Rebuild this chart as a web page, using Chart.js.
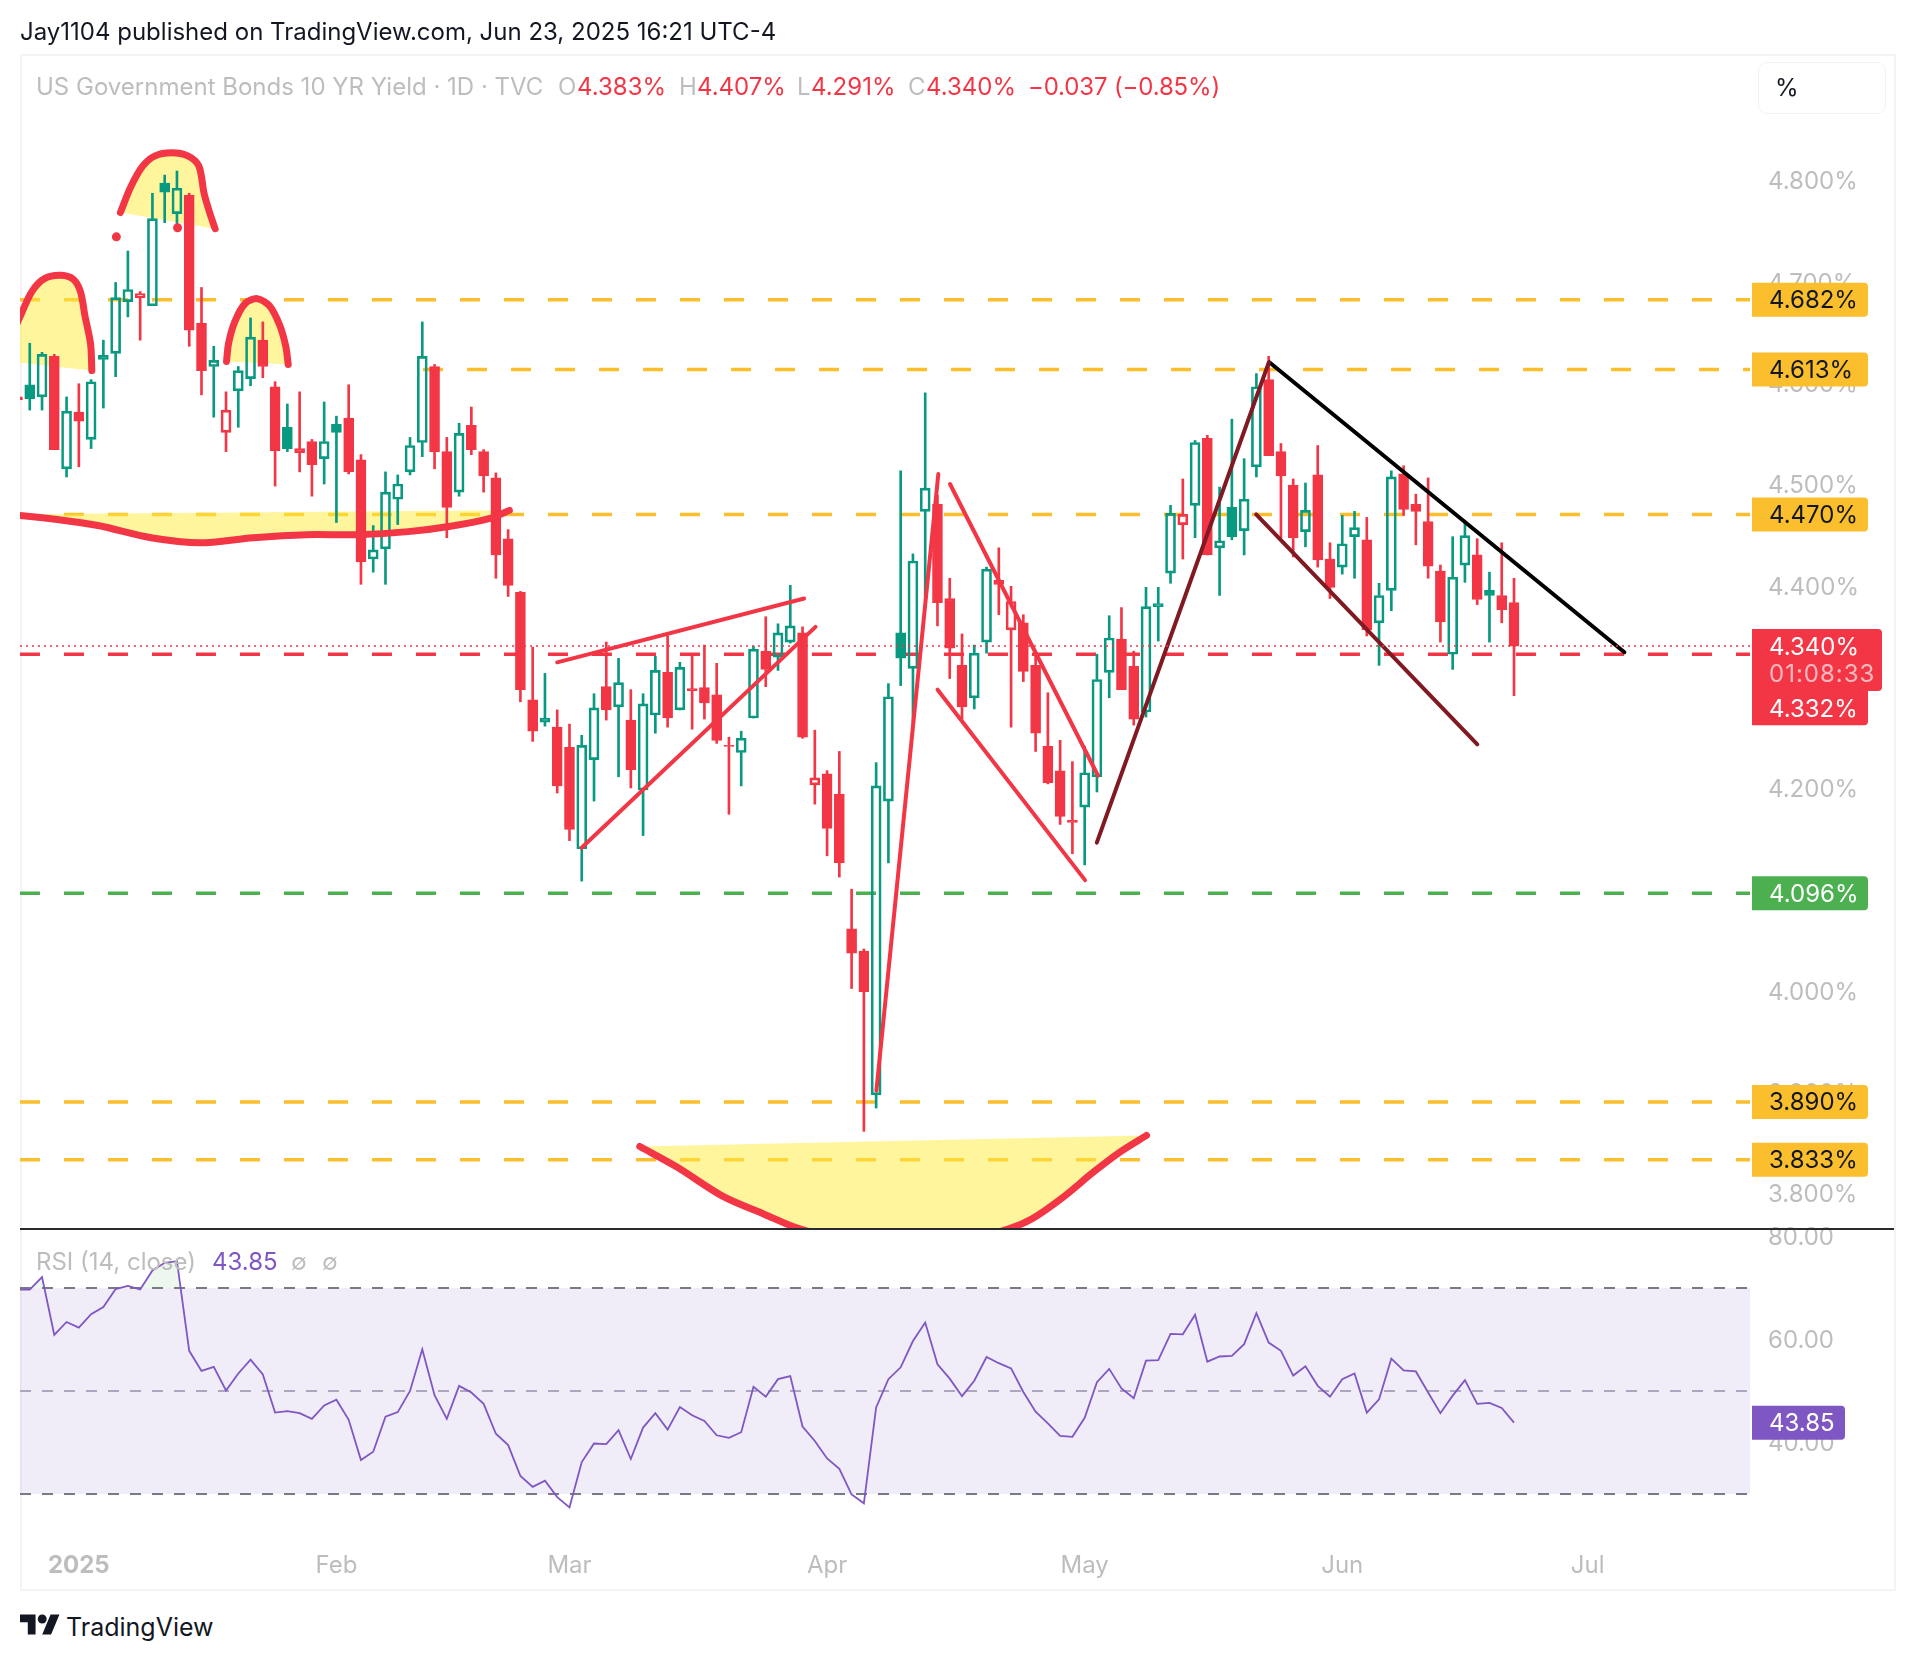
<!DOCTYPE html>
<html><head><meta charset="utf-8">
<style>
html,body{margin:0;padding:0;background:#fff;width:1914px;height:1660px;overflow:hidden;font-family:Inter,"Liberation Sans",sans-serif}
.t{position:absolute;white-space:nowrap;line-height:1;transform:translateY(-50%)}
canvas{position:absolute;left:0}
#frame{position:absolute;left:20px;top:54px;width:1872px;height:1533px;border:2px solid #f4f4f4}
#sep{position:absolute;left:20px;top:1228px;width:1874px;height:2px;background:#2a2a2e}
#pct{position:absolute;left:1758px;top:62px;width:126px;height:50px;border:1.5px solid #f2f2f2;border-radius:9px}
</style>
<script src="https://cdn.jsdelivr.net/npm/chart.js@4/dist/chart.umd.js"></script>
</head><body>
<div id="frame"></div>
<canvas id="price" width="1914" height="1235" style="top:24px"></canvas>
<canvas id="rsi" width="1914" height="374" style="top:1215px"></canvas>
<div id="sep"></div>
<div id="pct"></div>
<div class="t" style="left:20px;top:32px;font-size:24px;color:#131722">Jay1104 published on TradingView.com, Jun 23, 2025 16:21 UTC-4</div>
<div class="t" style="left:36px;top:87px;font-size:24px;color:#bdbdbd">US Government Bonds 10 YR Yield · 1D · TVC</div>
<div class="t" style="left:558px;top:87px;font-size:24px;color:#bdbdbd">O</div>
<div class="t" style="left:577px;top:87px;font-size:24px;color:#f23645">4.383%</div>
<div class="t" style="left:679px;top:87px;font-size:24px;color:#bdbdbd">H</div>
<div class="t" style="left:697px;top:87px;font-size:24px;color:#f23645">4.407%</div>
<div class="t" style="left:797px;top:87px;font-size:24px;color:#bdbdbd">L</div>
<div class="t" style="left:811px;top:87px;font-size:24px;color:#f23645">4.291%</div>
<div class="t" style="left:908px;top:87px;font-size:24px;color:#bdbdbd">C</div>
<div class="t" style="left:926px;top:87px;font-size:24px;color:#f23645">4.340%</div>
<div class="t" style="left:1028px;top:87px;font-size:24px;color:#f23645;letter-spacing:-0.15px">−0.037 (−0.85%)</div>
<div class="t" style="left:1775px;top:88px;font-size:24px;color:#131722">%</div>
<div class="t" style="left:36px;top:1262px;font-size:24px;color:#bdbdbd">RSI (14, close)</div>
<div class="t" style="left:212px;top:1262px;font-size:24px;color:#7e57c2">43.85</div>
<div class="t" style="left:291px;top:1262px;font-size:23px;color:#bdbdbd">∅</div>
<div class="t" style="left:322px;top:1262px;font-size:23px;color:#bdbdbd">∅</div>
<svg style="position:absolute;left:20px;top:1610px" width="40" height="28" viewBox="0 0 36 25"><path fill="#131722" d="M14 22H7V11H0V4h14v18zM28 22h-8l7.5-18h8L28 22z"/><circle fill="#131722" cx="20" cy="8" r="4"/></svg>
<div class="t" style="left:66px;top:1627px;font-size:25px;color:#131722">TradingView</div>
<script>
// ---- candles (daily, index 0 = late Dec 2024)
const opens=[4.586,4.598,4.586,4.626,4.515,4.571,4.544,4.627,4.629,4.680,4.684,4.676,4.797,4.767,4.785,4.659,4.616,4.551,4.592,4.604,
4.642,4.596,4.556,4.535,4.542,4.525,4.559,4.565,4.524,4.426,4.436,4.485,4.512,4.541,4.616,4.532,4.492,4.558,4.532,4.506,
4.446,4.393,4.287,4.269,4.260,4.240,4.140,4.228,4.300,4.280,4.267,4.198,4.272,4.314,4.277,4.298,4.299,4.292,4.242,4.235,
4.269,4.335,4.329,4.344,4.353,4.203,4.214,4.194,4.061,4.039,3.897,4.187,4.353,4.318,4.473,4.480,4.387,4.321,4.289,4.344,
4.405,4.356,4.363,4.321,4.241,4.217,4.168,4.181,4.211,4.314,4.347,4.320,4.275,4.382,4.412,4.460,4.479,4.545,4.437,4.477,
4.454,4.517,4.603,4.532,4.499,4.453,4.509,4.426,4.418,4.448,4.445,4.363,4.395,4.510,4.480,4.463,4.414,4.332,4.420,4.430,
4.395,4.390,4.383];
const highs=[4.600,4.639,4.630,4.628,4.586,4.599,4.603,4.642,4.699,4.730,4.690,4.787,4.805,4.809,4.787,4.694,4.636,4.591,4.616,4.664,
4.660,4.601,4.579,4.591,4.544,4.581,4.567,4.598,4.529,4.459,4.512,4.509,4.546,4.660,4.618,4.546,4.560,4.576,4.534,4.511,
4.455,4.394,4.339,4.313,4.277,4.263,4.252,4.293,4.344,4.328,4.297,4.293,4.330,4.350,4.324,4.331,4.341,4.323,4.250,4.256,
4.340,4.369,4.362,4.400,4.359,4.257,4.217,4.236,4.100,4.041,4.225,4.303,4.513,4.431,4.590,4.489,4.407,4.352,4.341,4.418,
4.437,4.399,4.371,4.334,4.294,4.247,4.226,4.241,4.332,4.370,4.378,4.335,4.398,4.398,4.479,4.505,4.543,4.548,4.497,4.564,
4.525,4.609,4.626,4.540,4.505,4.501,4.538,4.442,4.469,4.473,4.467,4.402,4.513,4.518,4.490,4.506,4.420,4.448,4.462,4.446,
4.413,4.442,4.407];
const lows=[4.570,4.573,4.573,4.534,4.507,4.517,4.535,4.575,4.606,4.665,4.642,4.676,4.758,4.750,4.636,4.588,4.566,4.532,4.556,4.597,
4.605,4.498,4.532,4.512,4.488,4.500,4.462,4.510,4.401,4.413,4.401,4.460,4.509,4.527,4.515,4.447,4.488,4.529,4.492,4.407,
4.389,4.285,4.246,4.261,4.195,4.148,4.108,4.187,4.267,4.211,4.200,4.153,4.254,4.260,4.277,4.258,4.268,4.244,4.174,4.202,
4.269,4.300,4.316,4.343,4.249,4.184,4.133,4.112,4.002,3.861,3.884,4.126,4.301,4.261,4.385,4.360,4.308,4.268,4.278,4.333,
4.371,4.260,4.305,4.236,4.204,4.164,4.135,4.124,4.196,4.289,4.297,4.262,4.270,4.345,4.402,4.426,4.447,4.430,4.390,4.445,
4.430,4.507,4.528,4.447,4.428,4.438,4.418,4.387,4.411,4.407,4.350,4.321,4.375,4.469,4.440,4.407,4.344,4.317,4.403,4.381,
4.344,4.363,4.291];
const closes=[4.583,4.584,4.628,4.534,4.572,4.562,4.601,4.623,4.684,4.692,4.688,4.762,4.788,4.792,4.652,4.612,4.622,4.573,4.612,4.645,
4.616,4.533,4.535,4.531,4.519,4.542,4.551,4.512,4.423,4.435,4.492,4.500,4.538,4.626,4.532,4.477,4.550,4.534,4.508,4.430,
4.400,4.297,4.256,4.265,4.202,4.159,4.242,4.279,4.277,4.304,4.218,4.283,4.316,4.269,4.319,4.296,4.284,4.247,4.241,4.249,
4.337,4.317,4.353,4.360,4.250,4.210,4.160,4.126,4.037,3.999,4.202,4.290,4.328,4.424,4.496,4.383,4.338,4.280,4.333,4.416,
4.401,4.384,4.315,4.254,4.205,4.172,4.166,4.215,4.307,4.348,4.297,4.268,4.379,4.379,4.471,4.470,4.541,4.430,4.444,4.448,
4.485,4.596,4.528,4.508,4.447,4.474,4.425,4.398,4.441,4.457,4.356,4.390,4.507,4.475,4.473,4.419,4.364,4.408,4.449,4.386,
4.390,4.376,4.340];
// ---- RSI (14, close)
const rsiValues=[69.7,69.7,72.1,60.9,63.4,62.3,64.9,66.3,69.8,70.4,69.7,73.4,74.9,75.2,57.8,53.9,54.7,50.1,53.4,56.1,
53.2,45.8,46.1,45.7,44.6,47.2,48.3,44.4,36.6,38.2,45.0,45.9,50.0,58.1,49.2,44.6,51.0,49.7,47.5,41.7,
39.5,33.5,31.4,32.6,29.4,27.4,36.2,39.8,39.7,42.4,36.8,42.9,45.7,42.5,46.9,45.3,44.2,41.4,40.9,42.0,
50.8,48.9,52.3,52.9,43.1,40.3,36.9,34.9,29.9,28.2,46.8,52.3,54.6,59.7,63.3,55.2,52.4,49.0,52.0,56.6,
55.4,54.4,49.8,46.0,43.7,41.3,41.1,44.8,51.7,54.3,50.5,48.6,55.9,56.0,61.1,61.0,64.8,55.7,56.7,56.8,
59.1,65.1,59.4,57.8,53.0,54.8,51.0,48.9,52.3,53.4,45.8,48.4,56.3,54.0,53.8,49.7,45.7,49.1,52.1,47.5,
47.7,46.7,43.85];
// ---- axes
const priceTicks=[4.8,4.7,4.6,4.5,4.4,4.3,4.2,4.1,4.0,3.9,3.8];
const rsiTicks=[80,60,40];
const monthBars=[5,26,45,66,87,108,128];
const monthLabels=['2025','Feb','Mar','Apr','May','Jun','Jul'];
// ---- horizontal levels: [price, first bar]
const amberLevels=[[4.682,0.2],[4.613,33.06],[4.470,3.79],[3.890,0.2],[3.833,0.2]];
const redLevel=[4.332,0.2];
const greenLevel=[4.096,0.2];
const lastClose=4.340;
const barRange=[0.204,141.24];
// ---- hand-drawn shapes: [bar, price]
const headLeft=[[-1.43,4.622],[0.24,4.666],[1.17,4.690],[2.23,4.703],[3.57,4.706],[4.56,4.702],[5.13,4.690],[5.50,4.666],[5.96,4.638],[6.06,4.612]];
const headTop=[[8.39,4.768],[9.22,4.793],[10.22,4.814],[11.22,4.824],[12.55,4.827],[13.88,4.824],[14.78,4.814],[15.21,4.787],[15.61,4.770],[16.11,4.752]];
const headRight=[[17.04,4.621],[17.21,4.639],[17.71,4.660],[18.54,4.678],[19.54,4.683],[20.54,4.676],[21.37,4.657],[21.87,4.636],[22.07,4.618]];
const neckline=[[-1.43,4.470],[0.07,4.469],[3.23,4.465],[6.56,4.459],[10.89,4.447],[14.88,4.442],[19.2,4.447],[23.53,4.450],[27.86,4.450],[31.85,4.453],[35.18,4.458],[38.51,4.466],[40.1,4.474]];
const bowl=[[50.73,3.846],[53.73,3.826],[57.48,3.797],[60.91,3.779],[63.71,3.765],[67.46,3.754],[72.44,3.750],[77.44,3.754],[80.87,3.765],[82.75,3.775],[85.24,3.796],[87.74,3.821],[89.93,3.841],[92.04,3.857]];
const dots=[[8.06,4.744],[13.05,4.753]];
const redTrends=[[[44.0,4.324],[64.13,4.387]],[[45.99,4.141],[65.06,4.359]],[[70.02,3.901],[75.07,4.510]],[[76.02,4.500],[88.09,4.212]],[[75.01,4.297],[87.03,4.109]]];
const darkTrends=[[[87.99,4.146],[102.01,4.620]],[[100.98,4.470],[119.01,4.243]]];
const blackTrend=[[102.08,4.620],[131.0,4.334]];

const RED='#f23645',TEAL='#089981',AMBER='#fbbf2d',GREEN='#4caf50',PURPLE='#7e57c2',TICK='#bdbdbd',FONT='Inter, "Liberation Sans", sans-serif';
const pts=a=>a.map(p=>({x:p[0],y:p[1]}));
const bars=opens.map((_,i)=>i);
const isUp=i=>i>0&&closes[i]>=closes[i-1];
const col=i=>isUp(i)?TEAL:RED;
const hollow=i=>closes[i]>opens[i];

function level(price,start,color){return{type:'line',order:50,data:[{x:start,y:price},{x:barRange[1],y:price}],borderColor:color,borderWidth:3.5,borderDash:[20,24],pointRadius:0,fill:false};}
function shapeFill(a){return{type:'line',order:45,data:pts(a),borderWidth:0,borderColor:'rgba(0,0,0,0)',tension:0.3,pointRadius:0,fill:'shape',backgroundColor:'rgba(255,235,59,0.5)'};}
function shapeLine(a){return{type:'line',order:20,data:pts(a),borderColor:RED,borderWidth:7,borderCapStyle:'round',borderJoinStyle:'round',tension:0.3,pointRadius:0,fill:false};}
function trend(a,color,w){return{type:'line',order:10,data:pts(a),borderColor:color,borderWidth:w,borderCapStyle:'round',pointRadius:0,fill:false};}
const shapes=[headLeft,headTop,headRight,neckline,bowl];

const datasets=[
 ...amberLevels.map(l=>level(l[0],l[1],AMBER)),
 level(redLevel[0],redLevel[1],RED),
 level(greenLevel[0],greenLevel[1],GREEN),
 ...shapes.map(shapeFill),
 {type:'bar',order:40,grouped:false,barThickness:2,data:bars.map(i=>({x:i,y:[Math.max(opens[i],closes[i]),highs[i]]})),backgroundColor:c=>col(c.dataIndex),borderWidth:0},
 {type:'bar',order:40,grouped:false,barThickness:2,data:bars.map(i=>({x:i,y:[lows[i],Math.min(opens[i],closes[i])]})),backgroundColor:c=>col(c.dataIndex),borderWidth:0},
 {type:'bar',order:30,grouped:false,barThickness:10,data:bars.map(i=>({x:i,y:[Math.min(opens[i],closes[i]),Math.max(opens[i],closes[i])]})),
  backgroundColor:c=>hollow(c.dataIndex)?'rgba(0,0,0,0)':col(c.dataIndex),borderColor:c=>col(c.dataIndex),borderWidth:2,borderSkipped:false},
 ...shapes.map(shapeLine),
 {type:'line',order:10,data:pts(dots),showLine:false,pointRadius:4.5,pointBackgroundColor:RED,pointBorderWidth:0},
 ...redTrends.map(t=>trend(t,RED,4)),
 ...darkTrends.map(t=>trend(t,'#801922',4)),
 trend(blackTrend,'#000000',4),
 {type:'line',order:5,data:[{x:barRange[0],y:lastClose},{x:barRange[1],y:lastClose}],borderColor:RED,borderWidth:1.5,borderDash:[2,4],pointRadius:0,fill:false}
];

function badge(ctx,scale,price,text,bg,fg,w,h){
 const y=scale.getPixelForValue(price);
 ctx.save();ctx.fillStyle=bg;ctx.beginPath();ctx.roundRect(1752,y-h/2,w,h,[0,4,4,0]);ctx.fill();
 ctx.fillStyle=fg;ctx.font='24px '+FONT;ctx.textBaseline='middle';ctx.textAlign='left';ctx.fillText(text,1769,y+1);ctx.restore();
}
const priceBadges={id:'priceBadges',afterDraw(ch){
 const s=ch.scales.y,c=ch.ctx;
 amberLevels.forEach(l=>badge(c,s,l[0],l[0].toFixed(3)+'%',AMBER,'#131722',116,34));
 badge(c,s,greenLevel[0],greenLevel[0].toFixed(3)+'%',GREEN,'#ffffff',116,34);
 const y=s.getPixelForValue(lastClose);
 c.save();c.fillStyle=RED;c.beginPath();c.roundRect(1752,s.getPixelForValue(redLevel[0]),116,71,[0,4,4,0]);c.fill();
 c.beginPath();c.roundRect(1752,y-17,130,62,[0,4,4,0]);c.fill();
 c.font='24px '+FONT;c.textBaseline='middle';c.fillStyle='#fff';c.textAlign='left';
 c.fillText(lastClose.toFixed(3)+'%',1769,y+2);
 c.letterSpacing='1px';c.fillStyle='rgba(255,255,255,0.65)';c.fillText('01:08:33',1769,y+29);c.letterSpacing='0px';
 c.fillStyle='#fff';c.fillText(redLevel[0].toFixed(3)+'%',1769,y+64);
 c.restore();
}};
const rsiBadge={id:'rsiBadge',afterDraw(ch){
 const s=ch.scales.y,c=ch.ctx,v=rsiValues[rsiValues.length-1],y=s.getPixelForValue(v);
 c.save();c.fillStyle=PURPLE;c.beginPath();c.roundRect(1752,y-17,93,34,[0,4,4,0]);c.fill();
 c.fillStyle='#fff';c.font='24px '+FONT;c.textBaseline='middle';c.fillText(v.toFixed(2),1769,y+1);c.restore();
}};
const zeroPad=s=>{s.paddingTop=0;s.paddingBottom=0;s.paddingLeft=0;s.paddingRight=0;};
const setTicks=list=>s=>{s.ticks=list.map(value=>({value}));};

new Chart(document.getElementById('price'),{
 data:{datasets},
 plugins:[priceBadges],
 options:{responsive:false,animation:false,devicePixelRatio:1,
  layout:{padding:{left:20,right:20,top:30,bottom:30}},
  plugins:{legend:{display:false},tooltip:{enabled:false}},
  scales:{
   x:{type:'linear',min:barRange[0],max:barRange[1],display:false,offset:false},
   y:{position:'right',min:3.7646,max:4.9245,grid:{display:false,drawTicks:false},border:{display:false},
      afterBuildTicks:setTicks(priceTicks),afterFit:s=>{s.width=144;zeroPad(s);},
      ticks:{color:TICK,padding:18,labelOffset:2,crossAlign:'near',font:{family:FONT,size:24},callback:v=>v.toFixed(3)+'%'}}
  }}
});
new Chart(document.getElementById('rsi'),{
 data:{datasets:[
  {type:'line',order:1,data:bars.map(i=>({x:i,y:rsiValues[i]})),borderColor:PURPLE,borderWidth:1.8,pointRadius:0,fill:{target:{value:70},above:'rgba(76,175,80,0.1)',below:'rgba(0,0,0,0)'}},
  {type:'line',order:5,data:[{x:barRange[0],y:70},{x:barRange[1],y:70}],borderColor:'#787b86',borderWidth:2,borderDash:[11,11],pointRadius:0,fill:{target:{value:30},above:'rgba(126,87,194,0.115)'}},
  {type:'line',order:5,data:[{x:barRange[0],y:50},{x:barRange[1],y:50}],borderColor:'#b5b1bf',borderWidth:2,borderDash:[11,11],pointRadius:0,fill:false},
  {type:'line',order:5,data:[{x:barRange[0],y:30},{x:barRange[1],y:30}],borderColor:'#787b86',borderWidth:2,borderDash:[11,11],pointRadius:0,fill:false}
 ]},
 plugins:[rsiBadge],
 options:{responsive:false,animation:false,devicePixelRatio:1,
  layout:{padding:{left:20,right:20,top:15,bottom:0}},
  plugins:{legend:{display:false},tooltip:{enabled:false}},
  scales:{
   x:{type:'linear',min:barRange[0],max:barRange[1],grid:{display:false,drawTicks:false},border:{display:false},
      afterBuildTicks:setTicks(monthBars),afterFit:s=>{s.height=44;zeroPad(s);},
      ticks:{color:TICK,padding:6,autoSkip:false,maxRotation:0,font:c=>({family:FONT,size:24,weight:c.index===0?'700':'400'}),
             callback:v=>monthLabels[monthBars.indexOf(v)]}},
   y:{position:'right',min:20.1,max:81.26,grid:{display:false,drawTicks:false},border:{display:false},
      afterBuildTicks:setTicks(rsiTicks),afterFit:s=>{s.width=144;zeroPad(s);},
      ticks:{color:TICK,padding:18,labelOffset:1,crossAlign:'near',font:{family:FONT,size:24},callback:v=>v.toFixed(2)}}
  }}
});
</script>
</body></html>
